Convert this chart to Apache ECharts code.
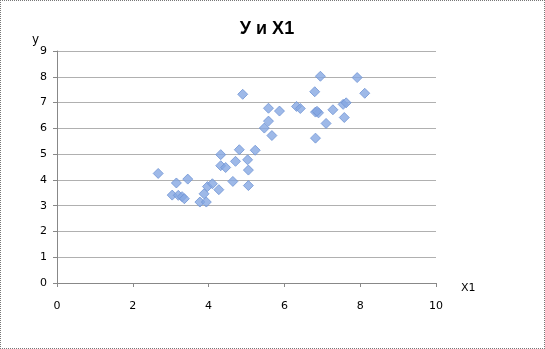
<!DOCTYPE html>
<html><head><meta charset="utf-8">
<script src="https://cdn.jsdelivr.net/npm/echarts@6/dist/echarts.min.js"></script>
<style>
html,body{margin:0;padding:0;background:#fff;}
#c{width:545px;height:349px;box-sizing:border-box;border:1px dotted #777;}
</style></head><body>
<div id="c"></div>
<script>
const titleText = 'У и X1';
const xName = 'X1';
const yName = 'y';
const x1Values = [2.67,3.15,3.45,3.04,3.20,3.30,3.36,3.77,3.94,3.88,3.97,4.10,4.27,4.64,5.05,4.32,4.45,4.71,5.03,5.05,4.32,4.81,5.23,4.90,5.47,5.58,5.67,5.58,5.87,6.32,6.42,6.80,6.95,6.82,6.90,6.82,7.10,7.28,7.55,7.63,7.58,7.92,8.12,6.86];
const yValues  = [4.25,3.88,4.03,3.41,3.40,3.35,3.27,3.14,3.14,3.46,3.74,3.85,3.62,3.94,3.78,4.55,4.48,4.72,4.78,4.38,4.98,5.17,5.15,7.32,6.01,6.28,5.72,6.78,6.67,6.85,6.77,7.42,8.02,6.63,6.60,5.62,6.19,6.72,6.93,6.99,6.42,7.97,7.36,6.66];
const xTicks = [0,2,4,6,8,10];
const yTicks = [0,1,2,3,4,5,6,7,8,9];

const data = x1Values.map((x,i)=>[x,yValues[i]]);
const chart = echarts.init(document.getElementById('c'), null, {renderer:'canvas'});
const font = 'DejaVu Sans';
chart.setOption({
  animation:false,
  title:{text:titleText,left:261,top:14,textAlign:'center',
    textStyle:{fontFamily:'Liberation Sans',fontSize:18,fontWeight:'bold',color:'#000'}},
  grid:{left:56,right:108,top:50,bottom:65},
  xAxis:{type:'value',min:xTicks[0],max:xTicks[xTicks.length-1],interval:2,
    name:xName,nameLocation:'end',nameGap:25,
    nameTextStyle:{fontFamily:font,fontSize:11,color:'#000',verticalAlign:'top',padding:[0,0,0,0]},
    axisLine:{show:true,lineStyle:{color:'#888'}},
    axisTick:{show:true,length:4,lineStyle:{color:'#888'}},
    axisLabel:{fontFamily:font,fontSize:11,color:'#000',margin:18},
    splitLine:{show:false}},
  yAxis:{type:'value',min:yTicks[0],max:yTicks[yTicks.length-1],interval:1,
    name:yName,nameLocation:'end',nameGap:3,
    nameTextStyle:{fontFamily:font,fontSize:12,color:'#000',align:'right',padding:[0,18,0,0]},
    axisLine:{show:true,lineStyle:{color:'#888'}},
    axisTick:{show:true,length:4,lineStyle:{color:'#888'}},
    axisLabel:{fontFamily:font,fontSize:11,color:'#000',margin:10},
    splitLine:{show:true,lineStyle:{color:'#b0b0b0',width:1}}},
  series:[{type:'scatter',data:data,symbol:'diamond',symbolSize:10,
    itemStyle:{color:'#86a8e2',borderColor:'#7095d4',borderWidth:1}}]
});
</script>
</body></html>
